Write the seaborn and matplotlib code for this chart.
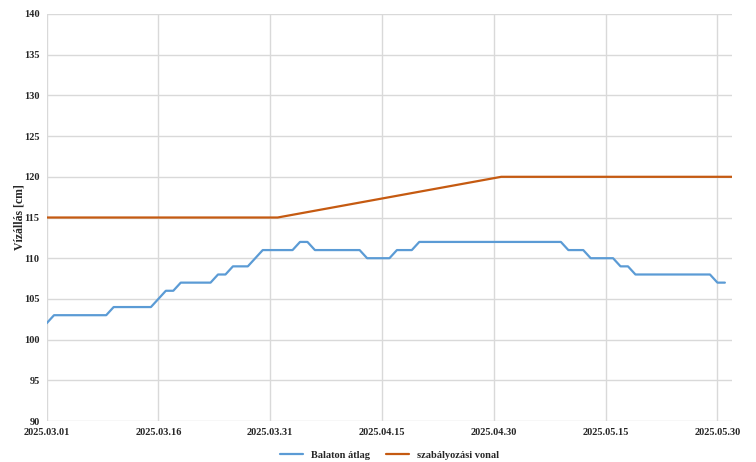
import pandas as pd
import matplotlib
matplotlib.use("Agg")
import matplotlib.pyplot as plt
import matplotlib.dates as mdates
import seaborn as sns

# daily Balaton average water level, 2025.03.01 - 2025.05.31 [cm]
balaton_start = "2025-03-01"
balaton_levels = [
    102, 103, 103, 103, 103, 103, 103, 103, 103, 104,
    104, 104, 104, 104, 104, 105, 106, 106, 107, 107,
    107, 107, 107, 108, 108, 109, 109, 109, 110, 111,
    111, 111, 111, 111, 112, 112, 111, 111, 111, 111,
    111, 111, 111, 110, 110, 110, 110, 111, 111, 111,
    112, 112, 112, 112, 112, 112, 112, 112, 112, 112,
    112, 112, 112, 112, 112, 112, 112, 112, 112, 112,
    111, 111, 111, 110, 110, 110, 110, 109, 109, 108,
    108, 108, 108, 108, 108, 108, 108, 108, 108, 108,
    107, 107,
]

# regulation line breakpoints
reg_dates = ["2025-03-01", "2025-04-01", "2025-05-01", "2025-06-01"]
reg_levels = [115, 115, 120, 120]

tick_dates = ["2025-03-01", "2025-03-16", "2025-03-31", "2025-04-15",
              "2025-04-30", "2025-05-15", "2025-05-30"]

series_names = ["Balaton átlag", "szabályozási vonal"]
colors = ["#5B9BD5", "#C55A11"]

df_bal = pd.DataFrame({
    "date": pd.date_range(balaton_start, periods=len(balaton_levels), freq="D"),
    "level": balaton_levels,
    "series": series_names[0],
})
df_reg = pd.DataFrame({
    "date": pd.to_datetime(reg_dates),
    "level": reg_levels,
    "series": series_names[1],
})
df = pd.concat([df_bal, df_reg], ignore_index=True)

sns.set_theme(style="whitegrid")
plt.rcParams["font.family"] = ["Liberation Serif", "DejaVu Serif"]
plt.rcParams["font.weight"] = "bold"

fig = plt.figure(figsize=(7.56, 4.62), dpi=100)
ax = fig.add_axes([0.0616, 0.0887, 0.9071, 0.881])

sns.lineplot(data=df, x="date", y="level", hue="series",
             palette=dict(zip(series_names, colors)), linewidth=1.6, ax=ax)

ax.set_xlim(pd.Timestamp("2025-03-01"), pd.Timestamp("2025-06-01"))
ax.set_ylim(90, 140)
ax.set_yticks(range(90, 141, 5))
ax.set_xticks(pd.to_datetime(tick_dates))
ax.xaxis.set_major_formatter(mdates.DateFormatter("%Y.%m.%d"))

for s in ax.spines.values():
    s.set_visible(False)
ax.grid(True, color="#d9d9d9", linewidth=1)
ax.tick_params(axis="both", length=0, labelsize=7.5, pad=5)
for lab in ax.get_xticklabels() + ax.get_yticklabels():
    lab.set_fontweight("bold")

ax.set_xlabel("")
ax.set_ylabel("Vízállás [cm]", fontsize=8.5, fontweight="bold")
ax.yaxis.set_label_coords(-0.03, 0.5)

ax.legend(loc="upper center", bbox_to_anchor=(0.5, -0.05), ncol=2,
          frameon=False, handlelength=2.2, columnspacing=1.5,
          prop={"weight": "bold", "size": 7.5})

fig.savefig("out.png", dpi=100)
plt.close(fig)
